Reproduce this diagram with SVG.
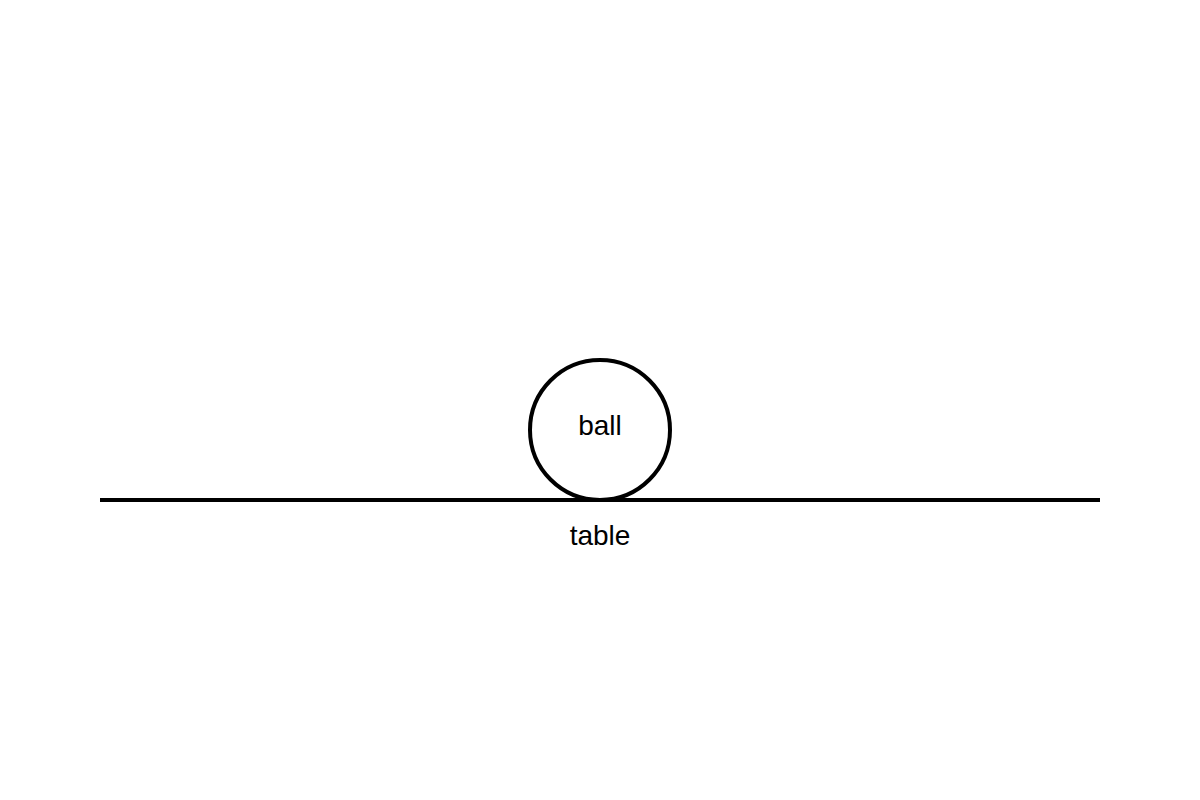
<svg xmlns="http://www.w3.org/2000/svg" width="1200" height="800" viewBox="0 0 1200 800">
<style>
.lbl{font-family:"Liberation Sans",Arial,sans-serif;font-size:28px;fill:#000;text-anchor:middle}
.shape{fill:none;stroke:#000;stroke-width:4}
</style>
<rect width="1200" height="800" fill="#fff"/>
<g id="table">
<line class="shape" x1="100" y1="500" x2="1100" y2="500"/>
<text class="lbl" x="600" y="545">table</text>
</g>
<g id="ball">
<circle class="shape" cx="600" cy="430" r="70"/>
<text class="lbl" x="600" y="435">ball</text>
</g>
</svg>
